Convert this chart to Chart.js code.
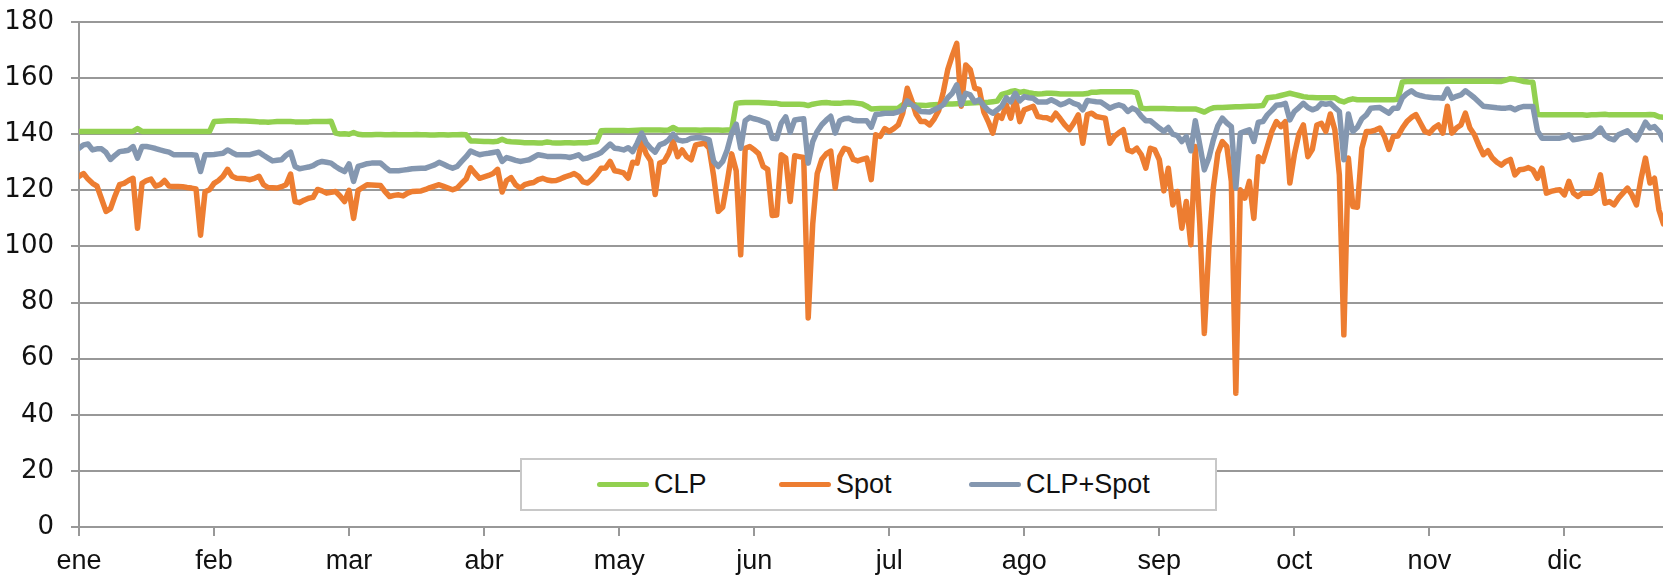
<!DOCTYPE html>
<html>
<head>
<meta charset="utf-8">
<title>CLP / Spot / CLP+Spot</title>
<script src="https://cdn.jsdelivr.net/npm/chart.js@4.4.1/dist/chart.umd.min.js"></script>
<style>
  html, body { margin:0; padding:0; background:#fff; }
  #wrap { position:relative; width:1663px; height:576px; overflow:hidden; }
  #chart { position:absolute; left:0; top:0; }
  #legend { position:absolute; left:520px; top:458px; width:697px; height:53px; box-sizing:border-box;
            border:2px solid #c8c8c8; background:#fff; }
  #legend .item { position:absolute; top:0; height:100%; display:flex; align-items:center;
                  font:27px "Liberation Sans", Arial, sans-serif; color:#111; white-space:nowrap; }
  #legend .swatch { width:52px; height:5px; border-radius:3px; margin-right:5px; }
</style>
</head>
<body>
<div id="wrap">
  <canvas id="chart" width="1663" height="576"></canvas>
  <div id="legend"></div>
</div>
<script>
// ---------------------------
// Data (one value per day)
// ---------------------------
const monthLabels = ['ene','feb','mar','abr','may','jun','jul','ago','sep','oct','nov','dic'];
const monthTicks  = [0, 30, 60, 90, 120, 150, 180, 210, 240, 270, 300, 330];
const yTicks      = [0, 20, 40, 60, 80, 100, 120, 140, 160, 180];

const clp = [
  141,141,141,141,141,141,141,141,141,141,141,141,141,142,141,141,141,141,141,141,141,141,141,141,141,141,141,141,141,141,
  144.5,144.6,144.7,144.8,144.8,144.8,144.7,144.7,144.6,144.5,144.4,144.4,144.3,144.4,144.5,144.5,144.5,144.5,144.4,144.4,144.4,144.4,144.5,144.5,144.5,144.5,144.6,140.4,140.1,140.2,
  140,140.6,140,139.8,139.8,139.8,139.9,139.9,139.8,139.8,139.9,139.8,139.8,139.8,139.8,139.9,139.8,139.8,139.7,139.7,139.8,139.8,139.7,139.8,139.8,139.9,139.8,137.6,137.6,137.5,
  137.4,137.4,137.3,137.5,138.2,137.5,137.3,137.2,137.1,137,137,137,136.9,136.9,137.2,137,136.9,136.9,137,137,136.9,137,137,137,137.2,137.3,141.2,141.3,141.3,141.3,
  141.3,141.3,141.2,141.3,141.4,141.5,141.5,141.5,141.5,141.5,141.4,141.5,142.4,141.5,141.5,141.5,141.5,141.5,141.4,141.5,141.5,141.5,141.5,141.4,141.5,141.5,151,151.2,151.3,151.3,
  151.3,151.3,151.2,151.1,151,151,150.7,150.7,150.7,150.7,150.7,150.6,150.2,150.7,151,151.2,151.3,151.1,151,151,151.2,151.3,151.2,151,150.8,150,149,149.1,149.2,149.2,
  149.2,149.2,149.3,150.5,150.7,150.7,150.4,150.3,150.2,150.4,150.5,150.6,150.7,150.8,150.8,150.9,151,151,151.1,151.2,151.3,151.3,151.4,151.6,151.8,154.2,154.6,155.2,155.5,154.9,
  155.2,154.8,154.5,154.3,154.4,154.6,154.6,154.5,154.3,154.3,154.3,154.3,154.3,154.3,154.5,155,155,155.1,155.1,155.1,155.1,155.1,155.1,155.1,155.1,154.8,149.3,149.1,149.2,149.2,
  149.2,149.2,149.1,149.1,149,149,149,149,149,148.5,147.9,148.8,149.4,149.5,149.5,149.6,149.7,149.8,149.8,149.9,150,150,150.1,150.2,153,153.2,153.4,153.8,154.2,154.6,
  154.2,153.8,153.4,153.2,153.1,153,153,153,153,153,152,151.5,152.2,152.6,152.3,152.3,152.3,152.3,152.3,152.3,152.3,152.3,152.3,152.5,158.6,158.8,158.8,158.8,158.8,158.8,
  158.8,158.8,158.8,158.8,158.9,158.9,158.9,158.9,158.9,158.9,158.9,158.9,158.9,158.9,158.9,158.8,158.8,159.3,159.8,159.6,159.2,158.8,158.6,158.5,147,146.9,146.9,146.9,146.9,146.9,
  146.9,146.9,146.9,146.9,146.9,146.8,146.9,146.9,147,147.1,146.9,146.9,146.9,146.9,146.9,146.9,146.9,146.9,146.9,147,146.9,146.2,146
];

const spot = [
  125,126,124,122.5,121.5,117,112.5,113.5,118,122,122.5,123.5,124.3,106.5,122.5,123.5,124,121.5,122,123.5,121.5,121.4,121.4,121.3,121,120.8,120.5,104,119.5,120.2,
  122.5,123.5,125,127.5,125,124.3,124.2,124.1,123.8,124.3,125,122,121,120.9,120.8,121.3,122,125.8,116,115.6,116.5,117.2,117.5,120.3,119.8,119,119.3,119.6,118,116,
  120,110,120,121,122,121.9,121.8,121.7,119.5,117.8,118.2,118.4,118,119,119.6,119.7,119.8,120.3,121,121.5,122,121.4,120.8,120.2,120.8,122.5,124,128,126,124.3,
  124.8,125.3,126,127.5,119.4,123.5,124.5,122,120.8,122,122.5,122.8,123.8,124.3,123.7,123.4,123.5,124.1,124.8,125.3,126,125,123,122.6,124,125.8,127.9,128,130.3,127,
  126.7,126.2,124.3,130,129.7,137.5,133,130.5,118.5,129.7,130.3,133.2,137.4,132,134.4,132,130.9,136.2,136.5,136.8,135,125,112.5,114,123,133,127,97,135,135.6,
  134.5,133,128.5,127.5,111,111.2,132.7,131.5,116,132.3,132,131.7,74.5,108,126,131,133,134,120.8,132,135,134.4,131,130.5,131,131.5,123.8,139.8,139.2,142,
  141,142,143.3,147.5,156.4,152,147,144.5,144.5,143.3,145.5,148.5,155,163,168,172.4,150,164.7,163,156.4,156,148,144.5,140.4,146.9,145.7,150.5,145.7,152.8,144.5,
  148.7,149.3,149.9,146.3,146,145.9,145.1,147.5,145.5,143.3,141.6,144,146.9,136.8,147,147.5,146.3,146,145.7,136.8,139.2,140.5,141.6,134.4,133.8,135,132.7,127.9,135,134.4,
  130.9,119.8,127.9,114.8,119.6,106.5,116,100.6,135.6,107.7,69,99.4,120.8,133.2,137.4,135.6,123.2,47.7,120.2,117.2,123.2,110,132,130.3,135.6,141,144.5,142.7,144.5,122.6,
  132.7,140,143.3,132,134.6,143.3,143.9,141,147.2,141.6,125.5,68.5,131.5,114.2,114,135,141,141,141.5,142.2,139.2,134.6,139.2,139.4,142.2,144.5,146,147,144,141,
  140.4,142.2,143.3,140.4,150,140.4,142.2,143.3,147.5,142.2,139.8,136,132.7,134.1,131.5,130,129,130.3,131,125.5,127.3,127.5,128.1,127.3,124.3,127.9,119,119.6,120,120.2,
  118.4,123.2,119,117.8,119,119,119,120.2,125.5,115.4,116,114.8,117.2,119,120.8,118.4,114.8,124,131.5,122.6,124.3,113,108
];

const clpSpot = [
  135,136.2,136.5,134.4,134.8,134.8,133.5,131,132.5,133.8,134,134.3,135.6,131.5,135.6,135.6,135.3,134.9,134.4,134,133.6,132.7,132.7,132.7,132.7,132.7,132.5,126.7,132.7,132.7,
  132.8,133,133.2,134.4,133.5,132.7,132.7,132.7,132.7,133.2,133.6,132.5,131.5,130.5,130.7,130.9,132.5,133.6,128.5,127.7,128,128.3,128.8,129.8,130.3,130,129.7,128.5,127.5,126.7,
  129.4,123.2,128.5,129,129.5,129.7,129.7,129.7,128.3,127,127,127,127.2,127.4,127.7,127.8,127.9,127.9,128.5,129.1,130,129.3,128.5,127.9,128.5,130.3,132,134,133.3,132.7,
  133,133.2,133.5,133.8,130.3,131.7,131.2,130.7,130.3,130.6,130.9,131.8,132.7,132.4,132.1,132.1,132.1,132.1,132,131.7,132.1,132.7,131.2,131.5,132.2,132.7,133.5,135,136.5,135,
  134.8,134.4,135.2,133.8,136.8,140.4,136.8,135,133.6,136.2,136.8,138,140,138,137.6,137.8,138.6,138.7,138.8,138.5,138,130.3,128.5,130.3,134.4,140.4,143.6,135,144.8,146,
  145.5,145.1,144.5,143.9,138.6,138.4,143.9,146.2,140.7,145.1,145.3,145.5,129.7,137.4,141,143.4,145,146.4,140.4,144.8,145.5,145.7,145,144.8,144.8,144.8,142.5,147,147.2,147.5,
  147.5,147.5,148,148.7,151.9,150.5,149.5,148.1,148,147.9,148.7,149.5,150.5,153,154.6,157.6,150.5,154.6,154,151.5,152.3,150.2,148.5,147.5,148.7,150,153,151.5,154.6,151.9,
  153.4,153,152.8,151.5,151.5,151.5,152.3,151.5,150.5,151,151.9,151,150.5,148.7,152,151.8,151.6,151.5,150.4,149.3,150,150.5,149.9,148.1,149.3,148.5,146.4,144.8,144.8,143.5,
  142.2,141,142.4,140,139.5,137.4,139.2,134.1,144.8,136.2,127.3,131.5,138,143,145.7,144,142.7,120.8,140.4,141,141.6,137.4,144.3,144.5,146.9,148.5,150.3,150.5,151,145.1,
  148.1,149.5,151,149.5,148.7,149.3,151,150.7,151,149.5,148.1,130.9,147.2,141,142.5,145.5,146.9,149.3,149.4,149.5,148.5,147.5,149.3,149.3,153,154.5,155.5,154.3,153.8,153.4,
  153.2,153,153,152.8,156.1,152.8,153.5,154,155.5,154.3,153,151.5,150,149.8,149.6,149.4,149.3,149.3,149.5,148.7,149.5,149.9,149.9,149.9,141.2,138.6,138.6,138.6,138.6,138.6,
  139,139.8,138,138.3,138.6,138.9,139.2,140.5,142.2,139.6,138.5,138,139.8,140.5,141.2,139.5,138,141,144.3,142.2,142.7,141,138
];

const seriesNames  = ['CLP', 'Spot', 'CLP+Spot'];
const seriesColors = ['#92d050', '#ed7d31', '#8497b0'];
const lastDay = 351.9;   // the picture is cut a little before the end of December

// ---------------------------
// Chart
// ---------------------------
const FONT_X = '"Liberation Sans", Arial, sans-serif';
const FONT_Y = '"DejaVu Sans", sans-serif';
const gridColor = '#989898';
const days = clp.map((_, i) => i);

function makeSet(i, values, order){
  return {
    label: seriesNames[i], data: values,
    borderColor: seriesColors[i], backgroundColor: seriesColors[i],
    borderWidth: 5.5, pointRadius: 0, tension: 0,
    borderJoinStyle: 'round', borderCapStyle: 'round', order
  };
}

new Chart(document.getElementById('chart'), {
  type: 'line',
  data: {
    labels: days,
    datasets: [ makeSet(0, clp, 2), makeSet(1, spot, 1), makeSet(2, clpSpot, 0) ]
  },
  options: {
    responsive: false, animation: false, devicePixelRatio: 1,
    layout: { padding: { top: 22, right: 0, bottom: 0, left: 0 } },
    plugins: { legend: { display: false }, tooltip: { enabled: false } },
    scales: {
      x: {
        type: 'linear', min: 0, max: lastDay,
        afterBuildTicks: s => { s.ticks = monthTicks.map(v => ({ value: v })); },
        afterFit: s => { s.height = 49; },
        grid: { drawOnChartArea: false, drawTicks: true, tickLength: 9, color: gridColor, lineWidth: 2 },
        border: { display: true, color: gridColor, width: 2 },
        ticks: {
          autoSkip: false, maxRotation: 0, padding: 9,
          font: { family: FONT_X, size: 27 }, color: '#111',
          callback: (v, i) => monthLabels[i]
        }
      },
      y: {
        min: 0, max: 180,
        afterBuildTicks: s => { s.ticks = yTicks.map(v => ({ value: v })); },
        // fixed width; drop the label overhang so the top padding alone sets the plot top
        afterFit: s => { s.width = 79; s.paddingTop = 0; s.paddingBottom = 0; },
        grid: { drawTicks: true, tickLength: 8, color: gridColor, lineWidth: 2 },
        border: { display: true, color: gridColor, width: 2 },
        ticks: { padding: 17, font: { family: FONT_Y, size: 26 }, color: '#111' }
      }
    }
  }
});

// ---------------------------
// Legend (boxed, over the chart)
// ---------------------------
const legendLeft = [75, 257, 447];
const legend = document.getElementById('legend');
seriesNames.forEach((name, i) => {
  const item = document.createElement('div');
  item.className = 'item';
  item.style.left = legendLeft[i] + 'px';
  item.innerHTML = `<span class="swatch" style="background:${seriesColors[i]}"></span><span>${name}</span>`;
  legend.appendChild(item);
});
</script>
</body>
</html>
